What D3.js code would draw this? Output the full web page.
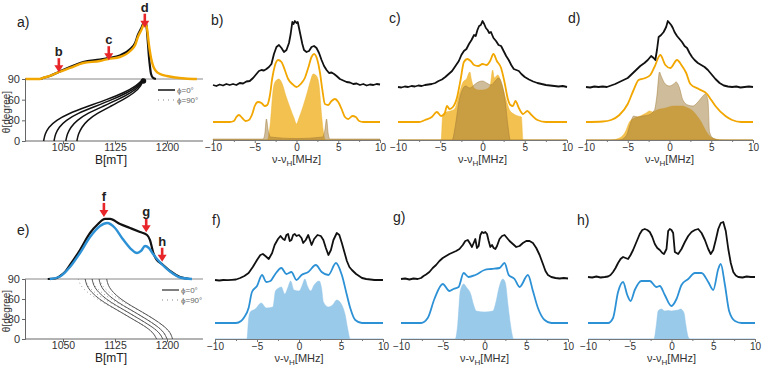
<!DOCTYPE html>
<html>
<head>
<meta charset="utf-8">
<script src="https://cdn.jsdelivr.net/npm/d3@7"></script>
<style>
  body { margin: 0; background: #fff; }
  svg text { font-family: "Liberation Sans", Arial, sans-serif; }
</style>
</head>
<body>
<script>
// ---- tick labels ----
const fieldTicks = [1050, 1125, 1200];
const thetaTicks = [0, 30, 60, 90];
const freqTicks = [-10, -5, 0, 5, 10];
const freqMinor = [-7.5, -2.5, 2.5, 7.5];

// ---- panel a: field-swept spectrum (B [mT], normalised intensity) ----
const a_exp = [[996,0],[1017,0],[1021,0.018],[1031,0.053],[1044,0.123],[1060,0.211],[1079,0.298],[1103,0.342],[1115,0.368],[1132,0.412],[1147,0.526],[1154,0.632],[1158,0.772],[1163,0.895],[1167,1.0],[1170,0.965],[1171,0.86],[1172.7,0.596],[1174,0.386],[1175.5,0.211],[1177,0.088],[1180,0.018],[1184,0]];
const a_sim = [[996,0],[1017,0],[1021,0.018],[1031,0.053],[1044,0.123],[1060,0.193],[1079,0.281],[1103,0.316],[1115,0.351],[1132,0.386],[1147,0.491],[1154,0.596],[1158,0.737],[1163,0.86],[1168,0.982],[1171,0.895],[1174,0.596],[1177,0.368],[1180,0.228],[1184,0.14],[1190,0.088],[1200,0.053],[1212,0.026],[1226,0.009],[1243,0]];
// orientation curves a (theta in degrees, B in mT)
const a_theta = [0, 10, 20, 30, 40, 50, 60, 70, 80, 90];
const a_curve1 = [1022, 1024, 1029, 1040, 1058, 1085, 1113, 1138, 1156, 1166];
const a_curve2 = [1037, 1039, 1044, 1054, 1071, 1096, 1121, 1143, 1159, 1166];
const a_curve3 = [1054, 1056, 1061, 1070, 1085, 1107, 1129, 1148, 1161, 1166];
const a_curve4 = [1070, 1072, 1077, 1085, 1099, 1118, 1137, 1153, 1163, 1166];
const a_arrows = [{label: "b", B: 1044, tip: 0.12}, {label: "c", B: 1116, tip: 0.33}, {label: "d", B: 1168, tip: 0.9}];

// ---- panel e ----
const e_exp = [[1028,0],[1038.5,0.008],[1045.7,0.047],[1052.9,0.109],[1060.1,0.219],[1074.5,0.453],[1089,0.719],[1100.5,0.859],[1110.6,0.938],[1117.8,0.938],[1132.3,0.859],[1146.7,0.797],[1161.1,0.734],[1171.2,0.688],[1175.5,0.609],[1179.9,0.422],[1184.2,0.313],[1192.9,0.234],[1204.4,0.125],[1218.8,0.031],[1233.3,0]];
const e_sim = [[1031,0],[1045.7,0.039],[1060.1,0.188],[1074.5,0.406],[1089,0.656],[1103.4,0.828],[1113.5,0.875],[1125,0.797],[1135.1,0.641],[1146.7,0.484],[1156.8,0.406],[1162.6,0.438],[1168.3,0.516],[1174.1,0.484],[1179.9,0.391],[1185.6,0.313],[1192.9,0.227],[1204.4,0.117],[1218.8,0.023],[1236,0]];
const e_theta = [90, 80, 70, 60, 50, 40, 30, 20, 10, 0];
const e_curve1 = [1082, 1084, 1091, 1102, 1117, 1134, 1150, 1167, 1180, 1185];
const e_curve2 = [1092, 1094, 1101, 1112, 1127, 1144, 1160, 1176, 1189, 1194];
const e_curve3 = [1102, 1104, 1111, 1122, 1137, 1154, 1170, 1185, 1196, 1200];
const e_curve4 = [1113, 1115, 1122, 1133, 1148, 1165, 1181, 1195, 1205, 1208];
const e_dot1 = [1072, 1075, 1085, 1099, 1116, 1134, 1150, 1167, 1180, 1185];
const e_dot2 = [1082, 1085, 1095, 1109, 1126, 1144, 1160, 1176, 1189, 1194];
const e_dot3 = [1092, 1095, 1105, 1119, 1136, 1154, 1170, 1185, 1196, 1200];
const e_dot4 = [1103, 1106, 1116, 1130, 1147, 1165, 1181, 1195, 1205, 1208];
const e_arrows = [{label: "f", B: 1109, tip: 0.97}, {label: "g", B: 1170, tip: 0.73}, {label: "h", B: 1193, tip: 0.27}];

// ---- ENDOR spectra (nu - nuH [MHz], stacked intensity) ----
const b_exp = [[-10,5.5],[-9.6,5.4],[-9.2,5.55],[-8.8,5.45],[-8.4,5.6],[-8,5.5],[-7.6,5.6],[-7.2,5.5],[-6.8,5.7],[-6.4,5.65],[-6,5.85],[-5.6,5.9],[-5.2,6.2],[-4.8,6.6],[-4.5,6.9],[-4.2,7.0],[-3.9,6.95],[-3.6,7.1],[-3.3,7.3],[-3,7.6],[-2.7,8.6],[-2.4,9.3],[-2.1,9.5],[-1.8,9.2],[-1.5,8.8],[-1.2,9.0],[-0.9,9.7],[-0.7,10.6],[-0.5,11.8],[-0.35,11.6],[-0.2,11.9],[0,11.7],[0.15,11.8],[0.3,11.2],[0.5,10.4],[0.7,9.6],[0.9,9.0],[1.2,8.8],[1.5,8.9],[1.8,9.3],[2.1,9.4],[2.4,9.2],[2.7,8.7],[3,8.0],[3.3,7.4],[3.6,7.0],[3.9,6.7],[4.2,6.75],[4.5,6.6],[4.8,6.4],[5.2,6.1],[5.6,5.95],[6,5.8],[6.4,5.75],[6.8,5.6],[7.2,5.65],[7.6,5.5],[8,5.6],[8.4,5.45],[8.8,5.55],[9.2,5.5],[9.6,5.6],[10,5.55]];
const b_sim = [[-10,1.8],[-8,1.8],[-7.5,1.9],[-7.2,2.3],[-6.9,2.5],[-6.5,2.2],[-6.1,1.9],[-5.7,2.0],[-5.3,2.6],[-5.0,3.4],[-4.6,3.8],[-4.2,3.7],[-3.8,3.4],[-3.5,3.5],[-3.2,4.4],[-2.9,6.2],[-2.6,7.4],[-2.2,8.0],[-1.8,7.8],[-1.4,7.0],[-1.0,6.1],[-0.5,5.6],[0,5.3],[0.5,5.6],[1.0,6.2],[1.4,7.2],[1.8,8.3],[2.1,8.6],[2.5,8.0],[2.8,6.8],[3.1,5.0],[3.4,3.6],[3.8,3.5],[4.2,3.9],[4.6,4.1],[5.0,3.8],[5.4,3.1],[5.8,2.3],[6.2,2.1],[6.7,2.4],[7.1,2.3],[7.5,1.9],[8,1.8],[10,1.8]];
const b_fillA = [[-10,0],[-3.5,0],[-3.3,0.6],[-3.1,2.0],[-2.8,5.0],[-2.5,5.9],[-2.1,6.1],[-1.7,5.6],[-1.3,4.5],[-0.8,3.3],[-0.3,2.2],[0,1.6],[0.3,2.2],[0.8,3.4],[1.3,4.8],[1.7,6.0],[2.0,6.6],[2.4,6.4],[2.7,5.5],[3.0,2.5],[3.3,0.4],[3.5,0],[10,0]];
const b_fillB = [[-10,0.1],[-4.0,0.1],[-3.8,0.6],[-3.6,2.1],[-3.4,1.0],[-3.1,0.3],[0,0.15],[3.1,0.3],[3.4,1.0],[3.6,2.1],[3.8,0.6],[4.0,0.1],[10,0.1]];

const c_exp = [[-10,5.3],[-9.6,5.25],[-9.2,5.35],[-8.8,5.3],[-8.4,5.4],[-8,5.35],[-7.6,5.45],[-7.2,5.4],[-6.8,5.5],[-6.4,5.55],[-6,5.6],[-5.6,5.7],[-5.2,5.9],[-4.8,6.05],[-4.4,6.3],[-4,6.6],[-3.6,6.9],[-3.2,7.4],[-2.8,7.9],[-2.5,8.5],[-2.2,8.9],[-1.9,9.1],[-1.6,9.6],[-1.3,10.0],[-1.0,10.5],[-0.8,10.4],[-0.6,11.0],[-0.4,11.4],[-0.2,11.5],[0,11.9],[0.2,11.6],[0.4,11.2],[0.6,11.0],[0.8,10.7],[1.0,10.8],[1.3,10.2],[1.6,9.9],[1.9,9.5],[2.2,9.4],[2.5,8.9],[2.8,8.4],[3.1,8.0],[3.4,7.5],[3.7,7.1],[4.0,7.0],[4.3,6.9],[4.6,6.6],[5.0,6.3],[5.5,6.05],[6,5.85],[6.5,5.7],[7,5.6],[7.5,5.5],[8,5.45],[8.5,5.4],[9,5.35],[9.5,5.4],[10,5.3]];
const c_sim = [[-10,1.8],[-7.5,1.8],[-6.8,2.0],[-6.0,2.3],[-5.4,2.8],[-4.9,2.4],[-4.5,2.6],[-4.2,3.4],[-3.9,3.1],[-3.5,3.3],[-3.0,4.3],[-2.6,6.0],[-2.2,7.8],[-1.8,8.1],[-1.4,7.9],[-1.0,7.5],[-0.5,7.4],[0,7.6],[0.5,7.5],[0.9,7.9],[1.3,8.6],[1.7,7.9],[2.2,7.2],[2.6,5.8],[3.0,4.1],[3.3,3.5],[3.6,3.4],[3.9,3.9],[4.3,3.2],[4.8,2.6],[5.3,2.9],[5.8,2.5],[6.5,2.0],[7.5,1.8],[10,1.8]];
const c_fillA = [[-10,0],[-4.9,0],[-4.7,2.6],[-4.3,2.8],[-3.8,2.9],[-3.3,3.1],[-2.8,4.5],[-2.3,5.8],[-1.9,6.1],[-1.5,6.8],[-1.3,6.0],[-1.0,5.2],[-0.5,5.0],[0,5.0],[0.5,5.1],[0.9,5.4],[1.2,7.0],[1.4,6.2],[1.8,6.5],[2.3,5.5],[2.8,4.0],[3.2,3.0],[3.7,2.6],[4.2,2.4],[4.6,2.3],[4.8,0],[10,0]];
const c_fillB = [[-10,0],[-3.6,0],[-3.2,1.5],[-2.8,3.8],[-2.4,5.0],[-2.0,5.4],[-1.5,5.2],[-1.0,5.5],[-0.5,5.8],[0,5.9],[0.5,5.7],[1.0,5.5],[1.5,5.9],[1.9,6.2],[2.3,5.6],[2.7,3.8],[3.0,1.5],[3.3,0],[10,0]];

const d_exp = [[-10,5.3],[-9.5,5.25],[-9,5.35],[-8.5,5.3],[-8,5.35],[-7.5,5.3],[-7,5.45],[-6.5,5.6],[-6,5.8],[-5.5,6.0],[-5,6.2],[-4.5,6.6],[-4,7.0],[-3.5,7.4],[-3,7.7],[-2.6,8.0],[-2.2,8.4],[-1.9,8.2],[-1.7,8.0],[-1.5,9.0],[-1.3,10.3],[-1.0,10.5],[-0.7,10.8],[-0.4,11.3],[-0.2,11.9],[0,11.7],[0.2,11.5],[0.4,11.2],[0.6,10.8],[0.9,10.4],[1.2,10.1],[1.5,9.8],[1.8,9.4],[2.1,9.2],[2.4,8.7],[2.7,8.3],[3.0,8.0],[3.4,7.7],[3.8,7.5],[4.2,7.3],[4.6,7.0],[5.0,6.6],[5.5,6.1],[6.0,5.7],[6.5,5.45],[7,5.35],[7.5,5.3],[8,5.35],[8.5,5.25],[9,5.3],[9.5,5.35],[10,5.3]];
const d_sim = [[-10,1.8],[-8,1.85],[-7,2.0],[-6,2.5],[-5,3.6],[-4.3,5.0],[-3.7,6.0],[-2.9,6.2],[-2.3,6.5],[-1.8,7.3],[-1.1,8.5],[-0.5,7.5],[0.1,7.2],[0.9,8.0],[1.5,7.4],[2.0,6.7],[2.5,5.6],[3.5,5.1],[4.5,4.6],[5.0,4.0],[5.5,3.4],[6.7,2.4],[7.5,2.0],[8.6,1.8],[10,1.8]];
const d_fillA = [[-10,0],[-7,0],[-6,0.2],[-5.3,0.8],[-4.8,1.8],[-4.2,2.2],[-3.5,2.4],[-2.8,2.7],[-2.4,2.9],[-2.0,2.8],[-1.5,3.0],[-0.5,3.2],[0.5,3.4],[1.5,3.4],[2.2,3.2],[2.8,2.9],[3.3,2.4],[3.8,1.8],[4.3,1.0],[4.8,0.4],[5.5,0.1],[6.5,0],[10,0]];
const d_fillB = [[-10,0],[-6,0],[-5.2,0.4],[-4.7,1.6],[-4.3,2.4],[-3.8,2.3],[-3.2,2.4],[-2.5,2.5],[-1.8,3.0],[-1.5,4.5],[-1.2,6.8],[-1.0,6.4],[-0.5,5.6],[0,5.4],[0.5,5.6],[0.8,5.8],[1.2,5.2],[1.6,4.0],[2.2,3.5],[2.8,3.4],[3.3,3.7],[3.8,4.2],[4.3,4.6],[4.6,4.0],[4.8,0.8],[5.2,0.2],[6,0],[10,0]];

const f_exp = [[-10,5.9],[-9.5,5.85],[-9,5.9],[-8.5,5.88],[-8,5.92],[-7.5,5.95],[-7,6.1],[-6.5,6.3],[-6,6.6],[-5.5,7.2],[-5,7.9],[-4.6,8.4],[-4.3,8.5],[-4.0,8.3],[-3.6,8.0],[-3.2,8.6],[-2.9,9.4],[-2.5,10.0],[-2.2,10.3],[-1.9,10.0],[-1.7,9.9],[-1.5,10.4],[-1.3,10.5],[-1.1,9.8],[-0.9,9.9],[-0.7,10.4],[-0.5,10.5],[-0.3,10.3],[0,10.4],[0.3,10.1],[0.5,9.6],[0.8,9.9],[1.1,10.4],[1.3,9.9],[1.5,9.4],[1.8,10.0],[2.2,10.4],[2.6,10.3],[2.9,9.9],[3.2,9.1],[3.5,8.4],[3.8,8.9],[4.1,9.9],[4.5,10.6],[4.8,10.4],[5.1,9.6],[5.4,8.7],[5.7,7.8],[6.0,7.2],[6.3,6.9],[6.8,6.5],[7.5,6.1],[8,6.0],[8.5,5.95],[9,5.9],[9.5,5.92],[10,5.9]];
const f_sim = [[-10,1.6],[-7.5,1.6],[-6.9,1.8],[-6.5,2.2],[-6.0,3.1],[-5.6,4.7],[-5.0,5.3],[-4.4,6.4],[-3.9,5.7],[-3.4,5.8],[-2.9,6.4],[-2.1,7.1],[-1.5,6.5],[-0.9,6.7],[-0.3,5.9],[0.3,6.4],[1.1,6.7],[2.0,7.4],[2.7,6.7],[3.5,6.4],[4.4,7.6],[5.1,6.4],[5.7,4.4],[6.1,3.1],[6.7,1.9],[7.5,1.6],[10,1.6]];
const f_fill = [[-10,0],[-6.2,0],[-6.0,2.0],[-5.8,2.7],[-5.2,3.0],[-4.5,3.6],[-3.9,3.1],[-3.1,3.2],[-2.8,4.8],[-2.4,5.1],[-2.1,5.2],[-1.7,4.5],[-1.3,5.2],[-1.0,5.8],[-0.6,4.9],[0,4.8],[0.4,5.4],[0.7,6.0],[1.0,5.3],[1.4,4.8],[1.8,5.4],[2.4,5.8],[2.7,5.0],[2.9,3.7],[3.5,3.2],[4.0,3.4],[4.5,3.9],[5.1,3.4],[5.5,2.4],[5.8,1.0],[6.1,0],[10,0]];

const g_exp = [[-10,6.0],[-9.5,6.05],[-9,5.95],[-8.5,6.05],[-8,6.0],[-7.6,6.1],[-7.3,6.3],[-7,6.45],[-6.6,6.7],[-6.2,7.1],[-5.8,7.4],[-5.4,7.8],[-5.0,8.1],[-4.6,8.3],[-4.2,8.5],[-3.8,8.65],[-3.4,8.8],[-3.0,9.0],[-2.6,9.4],[-2.3,9.8],[-2.0,9.9],[-1.7,9.5],[-1.5,9.2],[-1.3,9.6],[-1.1,10.0],[-0.9,9.1],[-0.7,9.3],[-0.5,10.4],[-0.3,10.7],[-0.1,10.6],[0.1,10.7],[0.3,10.5],[0.5,9.8],[0.7,9.2],[0.9,9.4],[1.1,9.1],[1.3,9.0],[1.5,9.3],[1.8,10.0],[2.1,10.3],[2.4,10.4],[2.7,10.1],[3.0,9.8],[3.4,9.5],[3.8,9.2],[4.2,9.3],[4.6,9.6],[5.0,9.8],[5.4,9.8],[5.8,9.6],[6.2,9.1],[6.6,8.4],[7.0,7.5],[7.3,6.8],[7.6,6.4],[8,6.2],[8.5,6.1],[9,6.05],[9.5,6.1],[10,6.05]];
const g_sim = [[-10,1.6],[-7.6,1.6],[-6.8,2.1],[-6.0,4.0],[-5.0,5.5],[-4.2,4.8],[-3.7,5.0],[-3.1,5.2],[-2.5,6.6],[-1.9,6.2],[-1.1,6.4],[0,6.9],[0.8,7.0],[1.8,7.1],[2.4,7.6],[2.9,6.4],[3.6,6.0],[4.2,5.2],[5.2,6.4],[5.8,4.8],[6.4,3.1],[7.2,1.9],[8,1.6],[10,1.6]];
const g_fill = [[-10,0],[-3.5,0],[-3.2,1.5],[-2.9,4.8],[-2.5,5.5],[-2.1,5.1],[-1.7,4.6],[-1.3,3.4],[-1.0,2.8],[0,2.7],[1.0,2.8],[1.4,3.8],[1.7,5.0],[2.2,6.0],[2.5,5.6],[2.8,3.5],[3.1,1.5],[3.5,0],[10,0]];

const h_exp = [[-10,6.2],[-9.5,6.15],[-9,6.25],[-8.5,6.15],[-8,6.2],[-7.6,6.25],[-7.3,6.4],[-7.0,6.7],[-6.7,7.1],[-6.4,7.6],[-6.1,8.0],[-5.8,8.2],[-5.5,8.1],[-5.2,8.0],[-4.9,8.4],[-4.6,8.9],[-4.2,9.7],[-3.8,10.5],[-3.5,10.9],[-3.2,11.0],[-2.9,10.9],[-2.6,10.7],[-2.3,10.2],[-2.0,9.5],[-1.7,9.1],[-1.4,8.9],[-1.1,8.6],[-0.9,8.5],[-0.6,9.0],[-0.4,10.8],[-0.2,11.0],[0,10.9],[0.2,10.6],[0.4,8.7],[0.8,8.5],[1.2,9.0],[1.6,9.7],[2.0,10.3],[2.4,10.7],[2.8,10.9],[3.2,11.0],[3.6,10.6],[4.0,9.9],[4.4,9.0],[4.7,8.5],[5.0,8.9],[5.3,9.9],[5.6,11.0],[5.9,11.6],[6.2,11.7],[6.5,10.8],[6.8,9.0],[7.1,7.6],[7.4,6.7],[7.7,6.35],[8,6.2],[8.5,6.15],[9,6.25],[9.5,6.2],[10,6.2]];
const h_sim = [[-10,1.6],[-7.6,1.6],[-7.0,2.1],[-6.4,4.7],[-5.8,5.7],[-5.3,4.4],[-4.9,3.8],[-4.4,4.9],[-3.6,5.8],[-2.6,5.8],[-1.8,5.2],[-1.4,5.3],[-0.8,4.4],[0,3.3],[0.6,4.0],[1.2,5.4],[2.0,6.0],[2.8,6.6],[3.6,6.6],[4.4,5.7],[5.0,4.9],[5.6,7.0],[5.9,7.5],[6.4,5.4],[6.9,2.8],[7.6,1.8],[8.4,1.6],[10,1.6]];
const h_fill = [[-10,0],[-2.1,0],[-1.8,1.5],[-1.6,2.8],[-1.2,3.0],[-0.8,2.8],[-0.4,2.85],[0,2.8],[0.4,2.85],[0.8,2.9],[1.1,3.0],[1.5,2.6],[1.7,1.5],[2.0,0.2],[2.2,0],[10,0]];

// ---- colours ----
const orangeLine = "#f2a600";
const orangeFill = "#f0b630";
const tanFill = "#a07a36";
const blueLine = "#2d91d6";
const blueFill = "#8fc4e8";
const red = "#e8262a";

const svg = d3.select("body").append("svg").attr("width", 762).attr("height", 365);

// ---- field panels (a, e) ----
const xB = d3.scaleLinear().domain([1050, 1200]).range([63, 167]);
const boxLeft = 25, boxRight = 203;

function fieldPanel(opt) {
  const th = d3.scaleLinear().domain([0, 90]).range([opt.bottom, opt.top]);
  const inten = d3.scaleLinear().domain([0, 1]).range([opt.top, opt.peak]);
  const g = svg.append("g");

  // box lines
  g.append("line").attr("x1", boxLeft).attr("x2", boxRight).attr("y1", opt.top).attr("y2", opt.top)
    .attr("stroke", "#888").attr("stroke-width", 1);

  const ax = g.append("g").attr("transform", `translate(${boxLeft},0)`)
    .call(d3.axisLeft(th).tickValues(thetaTicks).tickSize(3).tickPadding(2));
  const bx = g.append("g").attr("transform", `translate(0,${opt.bottom})`)
    .call(d3.axisBottom(xB).tickValues(fieldTicks).tickFormat(d3.format("d")).tickSize(3).tickPadding(0));
  bx.select(".domain").attr("d", `M${boxLeft},0H${boxRight}`);
  [ax, bx].forEach(s => {
    s.selectAll("path,line").attr("stroke", "#666");
    s.selectAll("text").attr("font-size", 11).attr("fill", "#333")
      .attr("font-family", "Liberation Sans, Arial, sans-serif");
  });
  bx.selectAll("text").attr("font-size", 10.5);

  g.append("text").attr("x", 111).attr("y", opt.bottom + 23).attr("text-anchor", "middle")
    .attr("font-size", 12).attr("fill", "#222").text("B[mT]");
  g.append("text").attr("transform", `translate(9.5,${(opt.top + opt.bottom) / 2 + 2}) rotate(-90)`)
    .attr("text-anchor", "middle").attr("font-size", 10).attr("fill", "#333").text("θ[degree]");

  // orientation curves
  const cl = d3.line().x(d => xB(d[0])).y(d => th(d[1])).curve(d3.curveBasis);
  (opt.dotted || []).forEach(c => {
    g.append("path").datum(c.map((b, i) => [b, opt.theta[i]])).attr("d", cl)
      .attr("fill", "none").attr("stroke", "#999").attr("stroke-width", 1).attr("stroke-dasharray", "1,3");
  });
  opt.curves.forEach(c => {
    g.append("path").datum(c.map((b, i) => [b, opt.theta[i]])).attr("d", cl)
      .attr("fill", "none").attr("stroke", opt.curveColor).attr("stroke-width", opt.curveWidth);
  });
  if (opt.dot) {
    g.append("circle").attr("cx", xB(opt.dot[0])).attr("cy", th(opt.dot[1])).attr("r", 2.8).attr("fill", "#111");
  }

  // legend
  const lx = opt.legendX, ly = opt.top + 11;
  g.append("line").attr("x1", lx).attr("x2", lx + 17).attr("y1", ly).attr("y2", ly)
    .attr("stroke", opt.curveColor).attr("stroke-width", 1.5);
  g.append("line").attr("x1", lx).attr("x2", lx + 17).attr("y1", ly + 10).attr("y2", ly + 10)
    .attr("stroke", "#888").attr("stroke-width", 1.2).attr("stroke-dasharray", "1,4");
  g.append("text").attr("x", lx + 19).attr("y", ly + 3).attr("font-size", 8).attr("fill", "#666").text("ϕ=0°");
  g.append("text").attr("x", lx + 19).attr("y", ly + 13).attr("font-size", 8).attr("fill", "#666").text("ϕ=90°");

  // spectra
  const sl = d3.line().x(d => xB(d[0])).y(d => inten(d[1])).curve(d3.curveMonotoneX);
  g.append("path").datum(opt.exp).attr("d", sl).attr("fill", "none").attr("stroke", "#111").attr("stroke-width", 2.2);
  g.append("path").datum(opt.sim).attr("d", sl).attr("fill", "none").attr("stroke", opt.simColor).attr("stroke-width", 2.4);

  // arrows
  opt.arrows.forEach(a => {
    const x = xB(a.B), tip = inten(a.tip);
    g.append("line").attr("x1", x).attr("x2", x).attr("y1", tip - 14).attr("y2", tip - 5)
      .attr("stroke", red).attr("stroke-width", 2.6);
    g.append("path").attr("d", `M${x - 4.5},${tip - 7}L${x + 4.5},${tip - 7}L${x},${tip}Z`).attr("fill", red);
    g.append("text").attr("x", x).attr("y", tip - 16).attr("text-anchor", "middle")
      .attr("font-size", 13).attr("font-weight", "bold").attr("fill", "#222").text(a.label);
  });

  g.append("text").attr("x", 17).attr("y", opt.labelY).attr("font-size", 14).attr("fill", "#222").text(opt.label);
}

fieldPanel({
  label: "a)", labelY: 27, top: 79, bottom: 141, peak: 22,
  theta: a_theta, curves: [a_curve1, a_curve2, a_curve3, a_curve4], curveColor: "#111", curveWidth: 1.5,
  dot: [1166, 87], legendX: 158,
  exp: a_exp, sim: a_sim, simColor: orangeLine, arrows: a_arrows
});
fieldPanel({
  label: "e)", labelY: 235, top: 279, bottom: 339, peak: 215,
  theta: e_theta, curves: [e_curve1, e_curve2, e_curve3, e_curve4], dotted: [e_dot1, e_dot2, e_dot3, e_dot4],
  curveColor: "#555", curveWidth: 1, legendX: 162,
  exp: e_exp, sim: e_sim, simColor: blueLine, arrows: e_arrows
});

// ---- ENDOR panels ----
const yTop = d3.scaleLinear().domain([0, 12]).range([140, 20]);
const yBot = d3.scaleLinear().domain([0, 12]).range([339, 219]);

function endorPanel(opt) {
  const x = d3.scaleLinear().domain([-10, 10]).range(opt.range);
  const y = opt.y;
  const g = svg.append("g");

  const area = d3.area().x(d => x(d[0])).y0(y(0)).y1(d => y(d[1])).curve(d3.curveMonotoneX);
  opt.fills.forEach(f => {
    g.append("path").datum(f.data).attr("d", area)
      .attr("fill", f.color).attr("fill-opacity", f.op)
      .attr("stroke", f.color).attr("stroke-opacity", 0.6).attr("stroke-width", 0.8);
  });

  const axis = g.append("g").attr("transform", `translate(0,${y(0)})`)
    .call(d3.axisBottom(x).tickValues(freqTicks).tickSize(3).tickPadding(1));
  axis.selectAll("path,line").attr("stroke", "#777");
  axis.selectAll("text").attr("font-size", 10).attr("fill", "#333")
    .attr("font-family", "Liberation Sans, Arial, sans-serif");
  g.append("g").attr("transform", `translate(0,${y(0)})`)
    .call(d3.axisBottom(x).tickValues(freqMinor).tickSize(2).tickFormat(""))
    .call(s => s.select(".domain").remove())
    .selectAll("line").attr("stroke", "#777");

  const simLine = d3.line().x(d => x(d[0])).y(d => y(d[1])).curve(d3.curveMonotoneX);
  g.append("path").datum(opt.sim).attr("d", simLine).attr("fill", "none")
    .attr("stroke", opt.simColor).attr("stroke-width", 1.8);
  const expLine = d3.line().x(d => x(d[0])).y(d => y(d[1])).curve(d3.curveLinear);
  g.append("path").datum(opt.exp).attr("d", expLine).attr("fill", "none")
    .attr("stroke", "#111").attr("stroke-width", 1.8).attr("stroke-linejoin", "round");

  const lab = g.append("text").attr("x", x(0)).attr("y", y(0) + 23).attr("text-anchor", "middle")
    .attr("font-size", 11).attr("fill", "#333");
  lab.append("tspan").text("ν-ν");
  lab.append("tspan").attr("font-size", 8).attr("dy", 2.5).text("H");
  lab.append("tspan").attr("dy", -2.5).text("[MHz]");

  g.append("text").attr("x", opt.labelX).attr("y", opt.labelY).attr("font-size", 14).attr("fill", "#222").text(opt.label);
}

// tan drawn on top of gold: the overlap comes out darker, as in the reference
endorPanel({ label: "b)", labelX: 211, labelY: 25, range: [213, 380], y: yTop, exp: b_exp, sim: b_sim, simColor: orangeLine,
  fills: [{ data: b_fillA, color: orangeFill, op: 0.85 }, { data: b_fillB, color: tanFill, op: 0.5 }] });
endorPanel({ label: "c)", labelX: 389, labelY: 23, range: [398, 567], y: yTop, exp: c_exp, sim: c_sim, simColor: orangeLine,
  fills: [{ data: c_fillA, color: orangeFill, op: 0.85 }, { data: c_fillB, color: tanFill, op: 0.5 }] });
endorPanel({ label: "d)", labelX: 568, labelY: 23, range: [586, 753], y: yTop, exp: d_exp, sim: d_sim, simColor: orangeLine,
  fills: [{ data: d_fillA, color: orangeFill, op: 0.85 }, { data: d_fillB, color: tanFill, op: 0.5 }] });
endorPanel({ label: "f)", labelX: 212, labelY: 225, range: [215, 383], y: yBot, exp: f_exp, sim: f_sim, simColor: blueLine,
  fills: [{ data: f_fill, color: blueFill, op: 0.9 }] });
endorPanel({ label: "g)", labelX: 393, labelY: 222, range: [401, 568], y: yBot, exp: g_exp, sim: g_sim, simColor: blueLine,
  fills: [{ data: g_fill, color: blueFill, op: 0.9 }] });
endorPanel({ label: "h)", labelX: 577, labelY: 225, range: [588, 755], y: yBot, exp: h_exp, sim: h_sim, simColor: blueLine,
  fills: [{ data: h_fill, color: blueFill, op: 0.9 }] });
</script>
</body>
</html>
